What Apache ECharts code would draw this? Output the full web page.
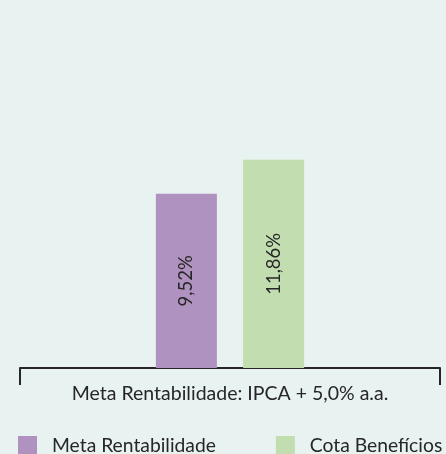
<!DOCTYPE html>
<html>
<head>
<meta charset="utf-8">
<script src="https://cdn.jsdelivr.net/npm/echarts@6/dist/echarts.min.js"></script>
<style>
  html, body { margin: 0; padding: 0; background: #E8F2F0; }
  #chart { width: 446px; height: 454px; }
</style>
</head>
<body>
<div id="chart"></div>
<script>
// Category and series data
const categories = ['Meta Rentabilidade: IPCA + 5,0% a.a.'];
const seriesNames = ['Meta Rentabilidade', 'Cota Benefícios'];
const metaValues = [9.52];
const cotaValues = [11.86];
const seriesColors = ['#AF92BF', '#C2DDB0'];

// Value axis range; bars grow from the bottom of the axis
const axisMin = -2.46;
const axisMax = 15;

const fontFamily = 'Lato, "Open Sans", sans-serif';
const textColor = '#262626';

const fmt = v => v.toFixed(2).replace('.', ',') + '%';

const chart = echarts.init(document.getElementById('chart'), null, { renderer: 'canvas' });

const barLabel = {
  show: true,
  position: 'inside',
  rotate: 90,
  color: textColor,
  fontFamily: fontFamily,
  fontSize: 18.5,
  formatter: p => fmt(p.value)
};

chart.setOption({
  backgroundColor: '#E8F2F0',
  animation: false,
  textStyle: { fontFamily: fontFamily },
  grid: { left: 20, right: 6, top: 114, bottom: 86, containLabel: false },
  legend: {
    data: seriesNames,
    left: 18,
    top: 436,
    width: 600,
    padding: 0,
    itemWidth: 19,
    itemHeight: 19,
    itemGap: 60,
    icon: 'rect',
    textStyle: { color: textColor, fontSize: 19.3, fontFamily: fontFamily, padding: [0, 0, 0, 10] }
  },
  xAxis: {
    type: 'category',
    data: categories,
    axisLine: { show: true, onZero: false, lineStyle: { color: '#262626', width: 2 } },
    axisTick: { show: true, length: 17, lineStyle: { color: '#262626', width: 2 } },
    axisLabel: { color: textColor, fontSize: 19.5, fontFamily: fontFamily, margin: 16 }
  },
  yAxis: {
    type: 'value',
    min: axisMin,
    max: axisMax,
    startValue: axisMin,
    show: false,
    splitLine: { show: false }
  },
  series: [
    {
      name: seriesNames[0],
      type: 'bar',
      data: metaValues,
      barWidth: 61,
      barGap: '43%',
      itemStyle: { color: seriesColors[0] },
      label: barLabel
    },
    {
      name: seriesNames[1],
      type: 'bar',
      data: cotaValues,
      barWidth: 61,
      barGap: '43%',
      itemStyle: { color: seriesColors[1] },
      label: barLabel
    }
  ]
});
</script>
</body>
</html>
